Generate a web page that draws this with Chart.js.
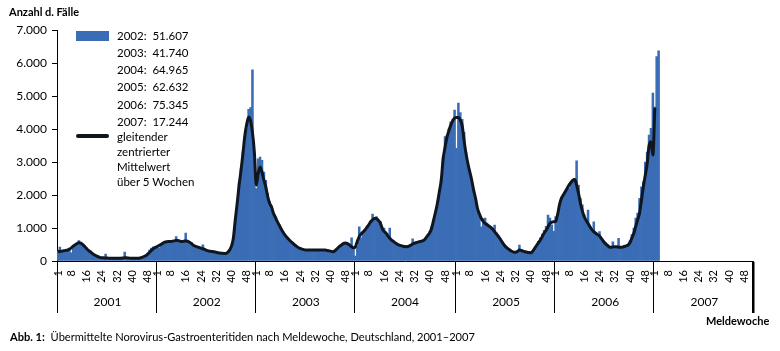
<!DOCTYPE html>
<html>
<head>
<meta charset="utf-8">
<script src="https://cdn.jsdelivr.net/npm/chart.js@4.4.1/dist/chart.umd.min.js"></script>
<style>
  html, body { margin: 0; padding: 0; background: #fff; }
  #wrap { position: relative; width: 780px; height: 351px; font-family: Lato, "Open Sans", sans-serif; color: #000; overflow: hidden; }
  #c { position: absolute; left: 0; top: 0; }
  .sw { position: absolute; }
  .txt { position: absolute; white-space: pre; font-size: 11.5px; }
  #xtitle { position: absolute; left: 706px; top: 314px; line-height: 14px; font-size: 11px; font-weight: bold; }
  #caption { position: absolute; left: 10px; top: 330px; line-height: 14px; font-size: 11.1px; white-space: pre; }
</style>
</head>
<body>
<div id="wrap">
  <canvas id="c" width="780" height="351"></canvas>
  <div id="legend"></div>
  <div id="xtitle">Meldewoche</div>
  <div id="caption"><b>Abb. 1:</b>  Übermittelte Norovirus-Gastroenteritiden nach Meldewoche, Deutschland, 2001–2007</div>
</div>
<script>
// ---------- data ----------
const years = [2001, 2002, 2003, 2004, 2005, 2006, 2007];
const weeksPerYear = [52, 52, 52, 53, 52, 52, 52];
const weekTickLabels = [1, 8, 16, 24, 32, 40, 48];

const legendYears = ['2002', '2003', '2004', '2005', '2006', '2007'];
const legendTotals = [51607, 41740, 64965, 62632, 75345, 17244];
const avgLabelLines = ['gleitender', 'zentrierter', 'Mittelwert', 'über 5 Wochen'];

// weekly reported cases
const cases2001 = [300, 420, 280, 320, 300, 330, 360, 250, 420, 460,
                   520, 620, 560, 510, 470, 390, 330, 290, 250, 200,
                   170, 140, 110, 100, 90, 210, 100, 80, 70, 60,
                   70, 80, 70, 80, 70, 270, 80, 90, 80, 70,
                   60, 70, 80, 90, 100, 130, 180, 240, 330, 390,
                   430, 440];
const cases2002 = [430, 400, 480, 560, 600, 580, 560, 620, 600, 560,
                   740, 580, 560, 600, 620, 850, 560, 580, 520, 480,
                   450, 430, 420, 400, 490, 360, 330, 320, 300, 300,
                   290, 260, 250, 240, 230, 220, 240, 230, 280, 420,
                   700, 1300, 1800, 2400, 2800, 3300, 3700, 4000, 4600, 4650,
                   5800, 3100];
const cases2003 = [2200, 3100, 3150, 3050, 2700, 2450, 2050, 1800, 1650, 1450,
                   1320, 1180, 1080, 980, 880, 800, 740, 660, 600, 540,
                   500, 450, 410, 380, 360, 340, 330, 350, 320, 310,
                   330, 340, 320, 330, 310, 340, 320, 300, 310, 280,
                   250, 300, 360, 420, 470, 500, 560, 520, 480, 450,
                   700, 420];
const cases2004 = [150, 450, 1040, 700, 850, 900, 950, 1100, 1200, 1420,
                   1300, 1350, 1250, 1200, 1000, 1000, 800, 750, 1000, 600,
                   580, 530, 500, 470, 460, 450, 430, 440, 460, 480,
                   670, 520, 550, 570, 580, 600, 640, 700, 800, 900,
                   1050, 1250, 1500, 1800, 2100, 2500, 3150, 3770, 3800, 4000,
                   4220, 4300, 4575];
const cases2005 = [3420, 4790, 4500, 4300, 3900, 3300, 2900, 2600, 2400, 2100,
                   1800, 1550, 1350, 1040, 1290, 1300, 1150, 1050, 1000, 950,
                   1090, 850, 760, 680, 580, 500, 430, 370, 320, 280,
                   250, 260, 300, 480, 300, 280, 270, 250, 240, 260,
                   300, 380, 480, 600, 700, 820, 930, 1050, 1390, 1300,
                   1100, 900];
const cases2006 = [1350, 1290, 1600, 1800, 1950, 2100, 2150, 2200, 2350, 2400,
                   2500, 3040, 2300, 1900, 1700, 1400, 1250, 1545, 1050, 950,
                   1190, 820, 780, 890, 700, 620, 540, 500, 440, 420,
                   585, 420, 440, 690, 400, 430, 450, 430, 500, 620,
                   800, 1000, 1300, 1450, 1900, 2250, 2400, 3000, 3300, 3820,
                   4020, 5090];
const cases2007 = [4670, 6200, 6374];

// 5-week centred moving average, as drawn in the reference
const avg2001 = [290, 290, 300, 310, 320, 330, 360, 400, 450, 490,
                 530, 555, 540, 500, 440, 380, 320, 280, 230, 190,
                 160, 130, 110, 100, 95, 90, 90, 85, 80, 80,
                 80, 80, 80, 85, 90, 95, 95, 90, 85, 80,
                 80, 80, 85, 90, 110, 130, 160, 200, 260, 320,
                 370, 410];
const avg2002 = [440, 470, 500, 540, 570, 585, 590, 590, 600, 610,
                 620, 620, 600, 590, 600, 610, 600, 570, 530, 480,
                 450, 430, 410, 390, 370, 350, 320, 305, 295, 285,
                 280, 265, 250, 240, 235, 230, 230, 260, 330, 450,
                 700, 1250, 1750, 2300, 2750, 3250, 3800, 4150, 4370, 4250,
                 3900, 3300];
const avg2003 = [2300, 2650, 2850, 2700, 2450, 2250, 1950, 1750, 1640, 1450,
                 1330, 1200, 1090, 980, 880, 790, 720, 660, 600, 550,
                 500, 450, 410, 380, 360, 345, 335, 330, 330, 330,
                 330, 330, 330, 330, 330, 330, 330, 320, 310, 300,
                 280, 300, 350, 410, 460, 500, 540, 545, 520, 480,
                 430, 400];
const avg2004 = [435, 600, 740, 820, 880, 940, 1020, 1100, 1190, 1250,
                 1290, 1290, 1230, 1160, 1000, 900, 850, 760, 690, 635,
                 590, 545, 510, 480, 465, 450, 440, 435, 450, 480,
                 515, 540, 560, 580, 590, 610, 635, 700, 780, 860,
                 1000, 1240, 1480, 1750, 2100, 2450, 3100, 3450, 3750, 3950,
                 4120, 4250, 4330];
const avg2005 = [4350, 4350, 4280, 4100, 3650, 3250, 2950, 2700, 2450, 2150,
                 1900, 1600, 1430, 1290, 1200, 1140, 1100, 1060, 1020, 960,
                 890, 820, 740, 660, 570, 485, 420, 370, 330, 295,
                 270, 265, 290, 330, 320, 300, 280, 265, 255, 250,
                 300, 385, 470, 560, 635, 740, 850, 930, 1040, 1140,
                 1180, 1190];
const avg2006 = [1200, 1400, 1700, 1900, 2000, 2100, 2200, 2300, 2380, 2450,
                 2470, 2300, 2050, 1750, 1520, 1340, 1230, 1140, 1040, 950,
                 890, 840, 800, 760, 680, 600, 535, 480, 430, 415,
                 425, 435, 430, 420, 415, 420, 440, 460, 485, 560,
                 700, 840, 1050, 1250, 1450, 1850, 2250, 2600, 2950, 3500,
                 3620, 3210];
const avg2007 = [4650];

// ---------- assembly ----------
const casesByYear = [cases2001, cases2002, cases2003, cases2004, cases2005, cases2006, cases2007];
const avgByYear = [avg2001, avg2002, avg2003, avg2004, avg2005, avg2006, avg2007];

const labels = [], weekOfIndex = [], yearTickText = [], caseData = [], avgData = [];
const boundaries = new Set();
years.forEach((yr, yi) => {
  const n = weeksPerYear[yi];
  boundaries.add(labels.length);
  for (let w = 1; w <= n; w++) {
    labels.push(yr + '-' + w);
    weekOfIndex.push(w);
    yearTickText.push(w === 27 ? String(yr) : '');
    const c = casesByYear[yi][w - 1];
    const a = avgByYear[yi][w - 1];
    caseData.push(c === undefined ? null : c);
    avgData.push(a === undefined ? null : a);
  }
});
const total = labels.length;
boundaries.add(total);

const fmt = n => String(n).replace(/\B(?=(\d{3})+(?!\d))/g, '.');

// ---------- HTML legend ----------
const BAR_COLOR = '#3a6db5';
const LINE_COLOR = '#0f1620';
(function buildLegend() {
  const lg = document.getElementById('legend');
  const sw = document.createElement('div');
  sw.className = 'sw';
  Object.assign(sw.style, { left: '76px', top: '31px', width: '33px', height: '10px', background: BAR_COLOR });
  lg.appendChild(sw);
  legendYears.forEach((y, i) => {
    const d = document.createElement('div');
    d.className = 'txt';
    d.textContent = y + ':  ' + fmt(legendTotals[i]);
    Object.assign(d.style, { left: '117px', top: (26.5 + i * 17.3) + 'px', lineHeight: '17px' });
    lg.appendChild(d);
  });
  const ln = document.createElement('div');
  ln.className = 'sw';
  Object.assign(ln.style, { left: '76px', top: '134px', width: '33px', height: '4px', background: LINE_COLOR, borderRadius: '2px' });
  lg.appendChild(ln);
  avgLabelLines.forEach((t, i) => {
    const d = document.createElement('div');
    d.className = 'txt';
    d.textContent = t;
    Object.assign(d.style, { left: '117px', top: (128.5 + i * 15) + 'px', lineHeight: '15px' });
    lg.appendChild(d);
  });
})();

// ---------- chart ----------
const boundaryColor = ctx => (ctx.index === undefined || boundaries.has(ctx.index)) ? '#000' : 'rgba(0,0,0,0)';
const boundaryWidth = ctx => (ctx.index === undefined || ctx.index === total) ? 2.5 : 1;

new Chart(document.getElementById('c'), {
  type: 'bar',
  data: {
    labels: labels,
    datasets: [
      {
        type: 'line',
        label: 'gleitender zentrierter Mittelwert über 5 Wochen',
        data: avgData,
        borderColor: LINE_COLOR,
        borderWidth: 3,
        pointRadius: 0,
        cubicInterpolationMode: 'monotone',
        spanGaps: false,
        order: 0
      },
      {
        type: 'bar',
        label: 'Fälle',
        data: caseData,
        backgroundColor: BAR_COLOR,
        borderWidth: 0,
        barPercentage: 1,
        categoryPercentage: 1,
        order: 1
      }
    ]
  },
  options: {
    responsive: false,
    animation: false,
    events: [],
    layout: { padding: { left: 9, right: 27, top: 0, bottom: 38 } },
    plugins: {
      legend: { display: false },
      tooltip: { enabled: false },
      title: {
        display: true,
        text: 'Anzahl d. Fälle',
        align: 'start',
        color: '#000',
        font: { family: 'Lato', size: 11, weight: 'bold' },
        padding: { top: 6, bottom: 11 }
      }
    },
    scales: {
      x: {
        type: 'category',
        position: 'bottom',
        offset: true,
        grid: { offset: true, drawOnChartArea: false, drawTicks: true, tickLength: 30, color: boundaryColor, lineWidth: boundaryWidth },
        border: { display: true, color: '#000', width: 1 },
        ticks: {
          autoSkip: false, maxRotation: 90, minRotation: 90, padding: -21,
          color: '#000', font: { family: 'Lato', size: 11 },
          callback: (v, i) => weekTickLabels.includes(weekOfIndex[i]) ? String(weekOfIndex[i]) : ''
        },
        afterFit: s => { s.height = 30; }
      },
      x2: {
        type: 'category',
        labels: yearTickText,
        position: 'bottom',
        offset: true,
        grid: { offset: true, drawOnChartArea: false, drawTicks: true, tickLength: 22, color: boundaryColor, lineWidth: boundaryWidth },
        border: { display: false },
        ticks: { autoSkip: false, maxRotation: 0, minRotation: 0, padding: -18, color: '#000', font: { family: 'Lato', size: 12 } },
        afterFit: s => { s.height = 22; }
      },
      y: {
        min: 0, max: 7000,
        grid: { display: true, drawOnChartArea: false, drawTicks: true, tickLength: 5, color: '#000' },
        border: { display: true, color: '#000', width: 1 },
        ticks: { stepSize: 1000, padding: 5, color: '#000', font: { family: 'Lato', size: 12 }, callback: v => fmt(v) },
        afterFit: s => { s.width = 48; }
      }
    }
  }
});
</script>
</body>
</html>
